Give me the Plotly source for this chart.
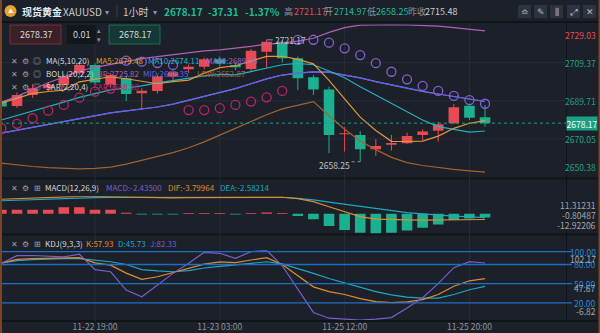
import plotly.graph_objects as go

W, H = 600, 333
PLOT_R = 566  # right edge of the plotting area in px

# ---------------- data ----------------
times = ["11-22 13:00", "11-22 14:00", "11-22 15:00", "11-22 16:00", "11-22 17:00", "11-22 18:00",
         "11-22 19:00", "11-22 20:00", "11-22 21:00", "11-22 22:00", "11-22 23:00", "11-23 00:00",
         "11-23 01:00", "11-23 02:00", "11-23 03:00", "11-23 04:00", "11-23 05:00", "11-25 07:00",
         "11-25 08:00", "11-25 09:00", "11-25 10:00", "11-25 11:00", "11-25 12:00", "11-25 13:00",
         "11-25 14:00", "11-25 15:00", "11-25 16:00", "11-25 17:00", "11-25 18:00", "11-25 19:00",
         "11-25 20:00", "11-25 21:00"]
time_tick_idx = [6, 14, 22, 30]

opens = [2689.6, 2687.0, 2692.7, 2696.2, 2697.9, 2703.9, 2708.2, 2697.9, 2701.3, 2693.6, 2694.8, 2702.2,
         2706.0, 2707.3, 2711.1, 2708.2, 2706.1, 2714.97, 2720.2, 2711.6, 2701.8, 2695.6, 2672.4, 2672.1,
         2664.7, 2667.0, 2667.8, 2672.1, 2674.2, 2678.1, 2687.1, 2681.2]
highs = [2691.0, 2694.0, 2698.4, 2699.5, 2703.5, 2709.9, 2709.0, 2704.0, 2702.5, 2696.2, 2703.0, 2705.5,
         2708.5, 2712.0, 2712.5, 2709.5, 2716.5, 2721.17, 2721.0, 2712.5, 2703.0, 2697.0, 2676.1, 2674.0,
         2669.9, 2672.1, 2673.3, 2675.0, 2678.9, 2688.1, 2688.1, 2687.6]
lows = [2685.5, 2686.0, 2691.2, 2694.5, 2696.5, 2703.0, 2698.0, 2696.5, 2689.6, 2685.0, 2693.5, 2700.5,
        2704.0, 2706.0, 2707.5, 2705.5, 2705.0, 2707.0, 2709.5, 2695.3, 2692.7, 2662.7, 2663.5, 2658.25,
        2661.3, 2664.0, 2667.5, 2669.5, 2668.6, 2677.6, 2679.8, 2676.4]
closes = [2686.7, 2692.7, 2696.2, 2698.0, 2702.2, 2708.2, 2699.1, 2703.0, 2693.2, 2694.9, 2702.2, 2704.5,
          2707.3, 2711.1, 2709.0, 2707.0, 2715.48, 2720.2, 2711.6, 2701.3, 2695.6, 2672.1, 2673.0, 2664.7,
          2666.4, 2667.9, 2671.6, 2673.8, 2677.6, 2686.4, 2681.0, 2678.17]

ma5 = [2688.5, 2691.0, 2693.5, 2694.5, 2695.2, 2699.5, 2700.7, 2702.1, 2701.1, 2699.7, 2698.5, 2699.6,
       2700.4, 2704.0, 2706.8, 2707.8, 2710.0, 2712.6, 2712.7, 2711.1, 2708.8, 2700.2, 2690.7, 2681.3,
       2674.4, 2668.8, 2668.7, 2668.9, 2671.5, 2675.5, 2678.1, 2679.48]
ma10 = [2679.8, 2682.0, 2684.5, 2686.5, 2689.0, 2691.5, 2693.5, 2695.3, 2696.3, 2697.4, 2699.0, 2700.2,
        2701.3, 2702.6, 2703.3, 2703.1, 2704.8, 2706.5, 2708.3, 2709.0, 2708.3, 2705.1, 2701.6, 2697.0,
        2692.7, 2688.8, 2684.4, 2679.8, 2676.4, 2674.9, 2673.5, 2674.11]
ma20 = [2673.0, 2674.5, 2676.0, 2677.5, 2679.0, 2680.5, 2682.0, 2683.5, 2684.5, 2685.5, 2686.5, 2688.0,
        2690.0, 2692.0, 2694.0, 2696.0, 2698.5, 2701.0, 2703.0, 2704.0, 2704.6, 2704.5, 2703.0, 2701.5,
        2699.6, 2697.8, 2696.1, 2694.6, 2693.2, 2691.8, 2690.5, 2689.35]
boll_up = [2689.0, 2692.0, 2695.5, 2699.0, 2702.0, 2705.0, 2707.0, 2708.5, 2710.0, 2711.5, 2712.5, 2713.5,
           2714.5, 2715.5, 2716.0, 2716.8, 2717.8, 2719.0, 2719.5, 2720.5, 2722.0, 2725.0, 2727.5, 2728.8,
           2729.0, 2729.0, 2728.9, 2728.6, 2728.2, 2727.5, 2726.7, 2725.82]
boll_mid = [2673.0, 2674.5, 2676.0, 2677.5, 2679.0, 2680.5, 2682.0, 2683.5, 2684.5, 2685.5, 2686.5, 2688.0,
            2690.0, 2692.0, 2694.0, 2696.0, 2698.5, 2701.0, 2703.0, 2704.0, 2704.6, 2704.5, 2703.0, 2701.5,
            2699.6, 2697.8, 2696.1, 2694.6, 2693.2, 2691.8, 2690.5, 2689.35]
boll_low = [2657.5, 2656.5, 2655.8, 2655.2, 2654.8, 2654.6, 2654.8, 2655.5, 2657.0, 2659.0, 2661.0, 2663.0,
            2665.5, 2668.5, 2672.0, 2675.5, 2679.0, 2682.5, 2685.5, 2687.5, 2689.3, 2682.0, 2675.0, 2669.0,
            2664.5, 2660.5, 2657.8, 2656.3, 2655.2, 2654.3, 2653.5, 2652.87]
sar = [2675.6, 2677.8, 2680.7, 2684.6, 2687.6, 2691.3, 2694.4, 2696.0, 2710.4, 2709.9, 2709.2, 2708.2,
       2684.9, 2684.9, 2685.9, 2687.6, 2689.3, 2691.5, 2694.8, 2721.17, 2721.2, 2719.7, 2716.8, 2713.3,
       2709.1, 2704.7, 2700.8, 2697.4, 2694.8, 2692.2, 2690.1, 2688.18]

macd_hist = [2.6, 2.6, 2.6, 2.6, 4.2, 4.2, 2.6, 2.6, 0.6, -0.5, -0.5, -0.5, 0.5, 0.5, 0.5, -0.5,
             0.5, 0.7, 0.5, -1.6, -3.7, -8.1, -10.7, -12.4, -12.92, -12.4, -10.9, -9.1, -7.0, -4.2, -3.1, -2.435]
dif = [9.4, 9.8, 10.3, 10.8, 11.2, 11.31, 11.2, 11.0, 10.7, 10.4, 10.3, 10.3, 10.4, 10.5, 10.6, 10.6,
       10.7, 10.9, 10.7, 9.8, 7.8, 4.5, 1.3, -1.9, -3.6, -4.0, -4.1, -4.2, -4.1, -4.0, -3.9, -3.79964]
dea = [8.4, 8.8, 9.2, 9.6, 10.0, 10.3, 10.5, 10.6, 10.6, 10.6, 10.5, 10.5, 10.5, 10.5, 10.5, 10.55,
       10.6, 10.7, 10.7, 9.9, 9.0, 7.5, 6.1, 4.8, 3.5, 2.0, 0.7, -0.2, -1.0, -1.6, -2.1, -2.58214]

k_vals = [82, 88, 89, 89.5, 90, 90.6, 82.5, 79, 66.5, 56.7, 60.8, 67.6, 73.5, 80.5, 84, 83,
          87, 90.6, 80, 63, 45, 37.5, 33, 26.5, 22, 20.3, 21.5, 25, 33, 46, 54.5, 57.93]
d_vals = [82.5, 86, 87.5, 88.5, 89, 89, 87, 84.3, 80, 72, 70, 68.6, 70.5, 74.5, 77, 79.5,
          81.5, 84.3, 81, 74, 66, 58, 51.5, 44, 37.5, 32.5, 29, 27.5, 27.5, 33, 40.5, 45.73]
j_vals = [82, 93.7, 94, 93, 92, 96, 72, 68.6, 40, 29.4, 47.8, 66.1, 82, 99, 97.5, 89.6,
          100, 102.17, 78, 42, 5, -4, -5, -6.82, -5.5, -3, 12, 28, 50, 75, 84.5, 82.33]

price_ticks = [2729.03, 2709.37, 2689.71, 2670.05, 2650.38]
macd_ticks = [11.31231, -0.80487, -12.92206]
kdj_levels = [100, 80, 50, 20]
kdj_ticks = [102.17, 47.67, -6.82]
last_price = 2678.17
day_high, day_low = 2721.17, 2658.25

# ---------------- style ----------------
BG = "#1b2029"
GRID = "#272d38"
SEP = "#10141a"
RED = "#e94b55"
GREEN = "#1bb190"
C_MA5 = "#e3963a"
C_MA10 = "#21b1c4"
C_MA20 = "#9a66d2"
C_UP = "#b45eb8"
C_MID = "#5d64e8"
C_LOW = "#a3622f"
C_SAR_DN = "#b8275f"
C_SAR_UP = "#8062d2"
C_K = "#e08b32"
C_D = "#1ea8c2"
C_J = "#7c5dcc"
C_LVL = "#1e6fc4"
TXT = "#c9cdd4"
DIM = "#8f949d"
FONT = "Noto Sans CJK SC, Roboto, sans-serif"
FS = 8.5   # axis text size
LS = 8     # legend text size


def px(x):
    return x / W


def py(y):
    return 1 - y / H


idx = list(range(len(closes)))
XR = [-0.09, 36.19]

fig = go.Figure()

# ---- candles ----
up = [c >= o for o, c in zip(opens, closes)]
for flag, col in [(True, RED), (False, GREEN)]:
    wx, wy = [], []
    for i in idx:
        if up[i] == flag:
            wx += [i, i, None]
            wy += [lows[i], highs[i], None]
    fig.add_trace(go.Scatter(x=wx, y=wy, mode="lines", line=dict(color=col, width=1),
                             hoverinfo="skip", xaxis="x", yaxis="y"))
fig.add_trace(go.Bar(
    x=idx,
    base=[min(o, c) for o, c in zip(opens, closes)],
    y=[max(abs(c - o), 0.5) for o, c in zip(opens, closes)],
    width=0.68, marker=dict(color=[RED if u else GREEN for u in up], line=dict(width=0)),
    xaxis="x", yaxis="y"))

# ---- indicator lines ----
for ser, col in [(boll_low, C_LOW), (boll_up, C_UP), (ma20, C_MA20), (boll_mid, C_MID),
                 (ma10, C_MA10), (ma5, C_MA5)]:
    fig.add_trace(go.Scatter(x=idx, y=ser, mode="lines", line=dict(color=col, width=1.2),
                             xaxis="x", yaxis="y"))

fig.add_trace(go.Scatter(
    x=idx, y=sar, mode="markers",
    marker=dict(symbol="circle-open", size=9,
                color=[C_SAR_DN if s < c else C_SAR_UP for s, c in zip(sar, closes)],
                line=dict(width=1.3)),
    xaxis="x", yaxis="y"))

# ---- MACD ----
fig.add_trace(go.Bar(x=idx, y=macd_hist, width=0.68,
                     marker=dict(color=[RED if v > 0 else GREEN for v in macd_hist], line=dict(width=0)),
                     xaxis="x2", yaxis="y2"))
fig.add_trace(go.Scatter(x=idx, y=dea, mode="lines", line=dict(color=C_D, width=1.2), xaxis="x2", yaxis="y2"))
fig.add_trace(go.Scatter(x=idx, y=dif, mode="lines", line=dict(color=C_K, width=1.2), xaxis="x2", yaxis="y2"))

# ---- KDJ ----
for ser, col in [(d_vals, C_D), (k_vals, C_K), (j_vals, C_J)]:
    fig.add_trace(go.Scatter(x=idx, y=ser, mode="lines", line=dict(color=col, width=1.2),
                             xaxis="x3", yaxis="y3"))

# ---------------- layout ----------------
main_dom = [py(177), py(24.6)]
macd_dom = [py(233.5), py(196.3)]
kdj_dom = [py(320), py(250.3)]

xcommon = dict(range=XR, domain=[0, px(PLOT_R)], showgrid=False, zeroline=False, showline=False,
               ticks="", fixedrange=True, tickvals=[idx[t] for t in time_tick_idx],
               ticktext=[times[t] for t in time_tick_idx])
ycommon = dict(showgrid=False, zeroline=False, showline=False, ticks="", showticklabels=False,
               fixedrange=True)

shapes = []
for yy in [22, 178.5, 234.5, 321]:
    shapes.append(dict(type="line", xref="paper", yref="paper", x0=0, x1=1, y0=py(yy), y1=py(yy),
                       line=dict(color=SEP, width=2), layer="below"))
shapes.append(dict(type="line", xref="paper", yref="paper", x0=px(PLOT_R + 0.5), x1=px(PLOT_R + 0.5),
                   y0=py(321), y1=py(22), line=dict(color=SEP, width=1), layer="below"))
for t in time_tick_idx:
    shapes.append(dict(type="line", xref="x", yref="paper", x0=t, x1=t, y0=py(321), y1=py(23),
                       line=dict(color=GRID, width=1), layer="below"))
for v in price_ticks[1:4]:
    shapes.append(dict(type="line", xref="paper", yref="y", x0=0, x1=px(PLOT_R), y0=v, y1=v,
                       line=dict(color=GRID, width=1), layer="below"))
for v in kdj_levels:
    shapes.append(dict(type="line", xref="paper", yref="y3", x0=0, x1=px(572), y0=v, y1=v,
                       line=dict(color=C_LVL, width=1.3)))
shapes.append(dict(type="line", xref="paper", yref="y", x0=0, x1=px(PLOT_R), y0=last_price, y1=last_price,
                   line=dict(color="#1e9e84", width=1, dash="dot")))
shapes.append(dict(type="line", xref="x", yref="y", x0=17, x1=17.4, y0=day_high, y1=day_high,
                   line=dict(color=DIM, width=1)))
shapes.append(dict(type="line", xref="x", yref="y", x0=22.45, x1=23, y0=day_low, y1=day_low,
                   line=dict(color=DIM, width=1, dash="dot")))
shapes.append(dict(type="rect", xref="paper", yref="paper", x0=0, x1=px(2), y0=0, y1=1,
                   fillcolor="#7a4526", line=dict(width=0)))
shapes.append(dict(type="rect", xref="paper", yref="paper", x0=px(598.5), x1=1, y0=0, y1=1,
                   fillcolor="#7a4526", line=dict(width=0)))
shapes.append(dict(type="circle", xref="paper", yref="paper", x0=px(4.5), x1=px(16.5), y0=py(17), y1=py(5),
                   fillcolor="#e7a12f", line=dict(width=0)))
shapes.append(dict(type="line", xref="paper", yref="paper", x0=px(117), x1=px(117), y0=py(17), y1=py(5),
                   line=dict(color="#3c424e", width=1)))
for x0, x1 in [(518, 531), (534, 547), (550, 563), (567, 580), (583, 596)]:
    shapes.append(dict(type="rect", xref="paper", yref="paper", x0=px(x0), x1=px(x1), y0=py(18), y1=py(5),
                       fillcolor="#2c323e", line=dict(width=0)))
shapes.append(dict(type="rect", xref="paper", yref="paper", x0=px(10), x1=px(61), y0=py(44), y1=py(25),
                   fillcolor="#3a2027", line=dict(color="#73303a", width=1)))
shapes.append(dict(type="rect", xref="paper", yref="paper", x0=px(67), x1=px(96), y0=py(44), y1=py(25),
                   fillcolor="#12161d", line=dict(width=0)))
shapes.append(dict(type="rect", xref="paper", yref="paper", x0=px(109), x1=px(160), y0=py(44), y1=py(25),
                   fillcolor="#163834", line=dict(color="#1f6a5c", width=1)))

ann = []


def text(x, y, s, color=TXT, size=FS, anchor="left", bold=False, yref="paper", yanchor="middle",
         xref="paper", **kw):
    if bold:
        s = "<b>" + s + "</b>"
    d = dict(x=x if xref != "paper" else px(x), y=y if yref != "paper" else py(y), xref=xref, yref=yref,
             text=s, showarrow=False, xanchor=anchor, yanchor=yanchor,
             font=dict(family=FONT, size=size, color=color), borderpad=0)
    d.update(kw)
    ann.append(d)


# header
text(7.4, 11, "▲", color="#ffffff", size=5.5)
text(21, 11, "现货黄金", color="#e8eaee", size=10, bold=True)
text(62, 11, "XAUUSD", color="#c9cdd4", size=10)
text(104, 11.5, "▾", color=DIM, size=8)
text(122, 11, "1小时", color="#c9cdd4", size=10)
text(152, 11.5, "▾", color=DIM, size=8)
text(163, 11, "2678.17", color="#1fbd93", size=10, bold=True)
text(207, 11, "-37.31", color="#1fbd93", size=10, bold=True)
text(244, 11, "-1.37%", color="#1fbd93", size=10, bold=True)
text(282.5, 11, "高", color=DIM, size=9)
text(292.5, 11, "2721.17", color=RED, size=9)
text(323, 11, "开", color=DIM, size=9)
text(333, 11, "2714.97", color="#1fbd93", size=9)
text(365.5, 11, "低", color=DIM, size=9)
text(375, 11, "2658.25", color="#1fbd93", size=9)
text(406.5, 11, "昨收", color=DIM, size=9)
text(424, 11, "2715.48", color="#c9cdd4", size=9)
for cx, g in [(524.5, "≏"), (540.5, "✎"), (556.5, "⫼"), (573.5, "⤢"), (589.5, "✕")]:
    text(cx, 11.5, g, color="#b9bdc5", size=8.5, anchor="center")

# price boxes text
text(35.5, 34.5, "2678.37", color="#d6d8dc", size=9, anchor="center")
text(81.5, 34.5, "0.01", color="#d6d8dc", size=9, anchor="center")
text(99, 30.5, "▴", color=DIM, size=6.5, anchor="center")
text(99, 38.5, "▾", color=DIM, size=6.5, anchor="center")
text(134.5, 34.5, "2678.17", color="#d6d8dc", size=9, anchor="center")

# indicator legends (main)
rows = [
    (60.5, "MA(5,10,20)", [(95, "MA5:2679.48", C_MA5), (147, "MA10:2674.11", C_MA10), (205, "MA20:2689.35", C_MA20)]),
    (73.5, "BOLL(20,2,2)", [(96, "UP:2725.82", C_UP), (142, "MID:2689.35", C_MID), (196, "LOW:2652.87", C_LOW)]),
    (86.5, "SAR(2,20,4)", [(92, "SAR:2688.18", C_SAR_DN)]),
]
for yy, name, parts in rows:
    text(10, yy, "✕", color="#9ba0a8", size=7.5)
    text(21, yy, "⚙", color="#9ba0a8", size=8)
    text(32, yy, "◎", color="#9ba0a8", size=8)
    text(44.5, yy, name, color="#d4d7dc", size=LS)
    for x, s, c in parts:
        text(x, yy, s, color=c, size=LS)

# MACD / KDJ legends
for yy, name, parts in [
    (187, "MACD(12,26,9)", [(105, "MACD:-2.43500", C_J), (167, "DIF:-3.79964", C_K), (219, "DEA:-2.58214", C_D)]),
    (243, "KDJ(9,3,3)", [(85, "K:57.93", C_K), (117, "D:45.73", C_D), (149, "J:82.33", C_J)]),
]:
    text(10, yy, "✕", color="#9ba0a8", size=7.5)
    text(21, yy, "⚙", color="#9ba0a8", size=8)
    text(33, yy, "⊞", color="#9ba0a8", size=8)
    text(44, yy, name, color="#d4d7dc", size=LS)
    for x, s, c in parts:
        text(x, yy, s, color=c, size=LS)

# right axis labels (main)
for k, v in enumerate(price_ticks):
    ya = "top" if k == 0 else ("bottom" if k == len(price_ticks) - 1 else "middle")
    text(597, v, "%.2f" % v, color=RED if k == 0 else "#25a085", anchor="right",
         yref="y", yanchor=ya, yshift=(-3 if k == 0 else (3 if k == len(price_ticks) - 1 else 0)))
text(598, last_price, "%.2f" % last_price, color="#ffffff", anchor="right", yref="y",
     bgcolor="#1aa185", width=30, height=13, align="center")

# MACD labels
for k, v in enumerate(macd_ticks):
    ya = "top" if k == 0 else ("bottom" if k == len(macd_ticks) - 1 else "middle")
    text(597, v, "%.5f" % v, color="#a3a7ae", anchor="right", yref="y2", yanchor=ya,
         yshift=(-2 if k == 0 else (2 if k == len(macd_ticks) - 1 else 0)))

# KDJ labels
for v in kdj_levels:
    text(597, v, "%.2f" % v, color="#2a87da", anchor="right", yref="y3")
for k, v in enumerate(kdj_ticks):
    ya = "top" if k == 0 else ("bottom" if k == len(kdj_ticks) - 1 else "middle")
    text(597, v, "%.2f" % v, color="#a3a7ae", anchor="right", yref="y3", yanchor=ya,
         yshift=(-2 if k == 0 else (-3 if k == 1 else 2)))

# high / low labels
text(17.45, day_high, "%.2f" % day_high, color="#bfc3ca", xref="x", yref="y")
text(22.4, day_low, "%.2f" % day_low, color="#bfc3ca", anchor="right", xref="x", yref="y", yshift=-3)

fig.update_layout(
    width=W, height=H, margin=dict(l=0, r=0, t=0, b=0),
    paper_bgcolor=BG, plot_bgcolor=BG, showlegend=False, barmode="overlay",
    xaxis=dict(xcommon, anchor="y", showticklabels=False),
    xaxis2=dict(xcommon, anchor="y2", showticklabels=False, matches="x"),
    xaxis3=dict(xcommon, anchor="y3", showticklabels=True, matches="x",
                tickfont=dict(family=FONT, size=8.5, color=DIM), ticklabelstandoff=0),
    yaxis=dict(ycommon, domain=main_dom, range=[price_ticks[-1], price_ticks[0]]),
    yaxis2=dict(ycommon, domain=macd_dom, range=[macd_ticks[-1], macd_ticks[0]]),
    yaxis3=dict(ycommon, domain=kdj_dom, range=[kdj_ticks[-1], kdj_ticks[0]]),
    shapes=shapes, annotations=ann, hovermode=False,
)

fig.write_html("out.html", config={"displayModeBar": False, "staticPlot": True})
